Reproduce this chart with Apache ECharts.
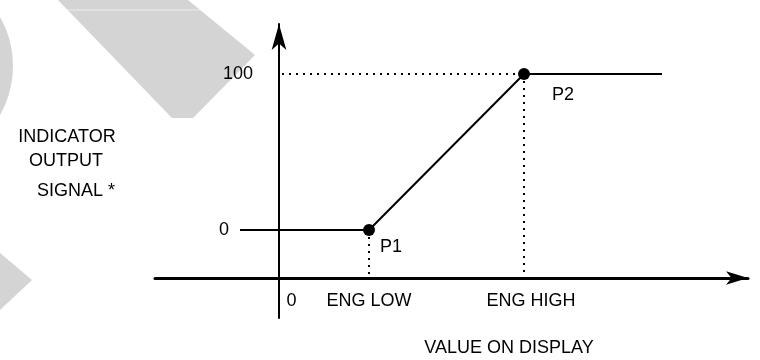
<!DOCTYPE html>
<html>
<head>
<meta charset="utf-8">
<title>Indicator output signal</title>
<script src="https://cdn.jsdelivr.net/npm/echarts@6/dist/echarts.min.js"></script>
<style>
  html, body { margin: 0; padding: 0; background: #fff; }
  #container { width: 760px; height: 360px; }
</style>
</head>
<body>
<div id="container"></div>
<script>
// transfer curve: value on display -> indicator output signal
var curveX = [-3.9, 9, 24.5, 38.3];
var curveY = [0, 0, 100, 100];
var pointNames = ['', 'P1', 'P2', ''];

var xTickValues = [0, 9, 24.5];
var xTickLabels = ['0', 'ENG LOW', 'ENG HIGH'];
var yTickValues = [0, 100];
var yTickLabels = ['0', '100'];

var FONT = "'Liberation Sans', Arial, sans-serif";
var xAxisLevel = -30.8; // where the horizontal axis crosses

var dom = document.getElementById('container');
var myChart = echarts.init(dom, null, { renderer: 'canvas' });

var engLow = xTickValues[1];
var engHigh = xTickValues[2];

var labelOffsets = { P1: [0, 17], P2: [17, 21] };

var curveData = curveX.map(function (x, i) {
  var name = pointNames[i];
  return {
    value: [x, curveY[i]],
    symbol: name ? 'circle' : 'none',
    symbolSize: 12,
    label: name ? {
      show: true,
      position: 'right',
      formatter: name,
      offset: labelOffsets[name]
    } : { show: false }
  };
});

var grey = '#d4d4d4';

option = {
  backgroundColor: '#fff',
  animation: false,
  textStyle: { fontFamily: FONT },
  grid: { left: 155, right: 12, top: 24, bottom: 42 },
  xAxis: {
    type: 'value',
    min: -12.4,
    max: 46.9,
    offset: -40,
    axisLine: {
      onZero: false,
      symbol: ['none', 'arrow'],
      symbolSize: [10, 22],
      lineStyle: { color: '#000', width: 3 }
    },
    axisTick: { show: false },
    splitLine: { show: false },
    axisLabel: {
      customValues: xTickValues,
      margin: 14,
      color: '#000',
      fontSize: 18,
      fontFamily: FONT,
      formatter: function (v) {
        var t = xTickLabels[xTickValues.indexOf(v)];
        if (v === 0) return '{z|' + t + '}';
        if (v === engHigh) return '{h|' + t + '}';
        return t;
      },
      rich: {
        z: { padding: [0, 0, 0, 25], fontSize: 18, color: '#000', fontFamily: FONT },
        h: { padding: [0, 0, 0, 14], fontSize: 18, color: '#000', fontFamily: FONT }
      }
    }
  },
  yAxis: {
    type: 'value',
    min: -56.4,
    max: 132.1,
    offset: -124,
    axisLine: {
      onZero: false,
      symbol: ['none', 'arrow'],
      symbolSize: [11, 26],
      lineStyle: { color: '#000', width: 2 }
    },
    axisTick: { show: false },
    splitLine: { show: false },
    axisLabel: {
      customValues: yTickValues,
      margin: 26,
      color: '#000',
      fontSize: 18,
      fontFamily: FONT,
      formatter: function (v) {
        var t = yTickLabels[yTickValues.indexOf(v)];
        return v === 0 ? '{z|' + t + '}' : t;
      },
      rich: {
        z: { padding: [0, 24, 0, 0], fontSize: 18, color: '#000', fontFamily: FONT }
      }
    }
  },
  graphic: [
    // grey watermark shapes in the background
    {
      type: 'polygon', z: -10, silent: true,
      shape: { points: [[58, 0], [188, 0], [255, 55], [193, 118], [172, 118]] },
      style: { fill: grey }
    },
    {
      type: 'line', z: -9, silent: true,
      shape: { x1: 68, y1: 10, x2: 200, y2: 10 },
      style: { stroke: '#ececec', lineWidth: 1 }
    },
    {
      type: 'circle', z: -10, silent: true,
      shape: { cx: -86, cy: 66, r: 99 },
      style: { fill: grey }
    },
    {
      type: 'polygon', z: -10, silent: true,
      shape: { points: [[0, 253], [32, 280], [0, 310]] },
      style: { fill: grey }
    },
    // axis titles
    {
      type: 'text', x: 67, y: 137,
      style: { text: 'INDICATOR', align: 'center', verticalAlign: 'middle', fontSize: 18, fontFamily: FONT, fill: '#000' }
    },
    {
      type: 'text', x: 66, y: 161,
      style: { text: 'OUTPUT', align: 'center', verticalAlign: 'middle', fontSize: 18, fontFamily: FONT, fill: '#000' }
    },
    {
      type: 'text', x: 76, y: 191,
      style: { text: 'SIGNAL *', align: 'center', verticalAlign: 'middle', fontSize: 18, fontFamily: FONT, fill: '#000' }
    },
    {
      type: 'text', x: 509, y: 348,
      style: { text: 'VALUE ON DISPLAY', align: 'center', verticalAlign: 'middle', fontSize: 18, fontFamily: FONT, fill: '#000' }
    }
  ],
  series: [
    {
      type: 'line',
      showSymbol: true,
      silent: true,
      itemStyle: { color: '#000' },
      lineStyle: { color: '#000', width: 2 },
      label: { color: '#000', fontSize: 18, fontFamily: FONT },
      data: curveData,
      markLine: {
        silent: true,
        symbol: ['none', 'none'],
        label: { show: false },
        lineStyle: { color: '#000', width: 2, type: [2, 5] },
        data: [
          [{ coord: [0.3, yTickValues[1]] }, { coord: [engHigh, yTickValues[1]] }],
          [{ coord: [engLow, yTickValues[0]] }, { coord: [engLow, xAxisLevel] }],
          [{ coord: [engHigh, yTickValues[1]] }, { coord: [engHigh, xAxisLevel] }]
        ]
      }
    }
  ]
};

if (option && typeof option === 'object') {
  myChart.setOption(option, true);
}
</script>
</body>
</html>
